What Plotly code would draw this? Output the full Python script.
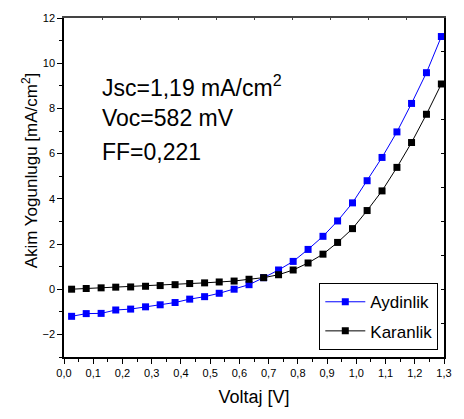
import plotly.graph_objects as go

voltage = [0.026, 0.076, 0.127, 0.177, 0.228, 0.279, 0.329, 0.380, 0.430, 0.481,
           0.531, 0.582, 0.633, 0.683, 0.734, 0.784, 0.835, 0.886, 0.936, 0.987,
           1.037, 1.088, 1.139, 1.189, 1.240, 1.291]
aydinlik = [-1.20, -1.08, -1.07, -0.92, -0.88, -0.78, -0.69, -0.59, -0.44, -0.33,
            -0.18, 0.00, 0.20, 0.51, 0.85, 1.23, 1.76, 2.34, 3.02, 3.82,
            4.80, 5.83, 6.96, 8.22, 9.58, 11.18]
karanlik = [0.00, 0.03, 0.06, 0.09, 0.10, 0.13, 0.16, 0.20, 0.25, 0.28,
            0.32, 0.36, 0.44, 0.51, 0.64, 0.85, 1.16, 1.55, 2.07, 2.68,
            3.48, 4.35, 5.39, 6.49, 7.74, 9.08]
info_lines = ["Jsc=1,19 mA/cm<sup>2</sup>", "Voc=582 mV", "FF=0,221"]

FONT = "Liberation Sans, Arial, sans-serif"

fig = go.Figure()
fig.add_trace(go.Scatter(x=voltage, y=aydinlik, name="Aydinlik", mode="lines+markers",
                         legendgroup="a",
                         line=dict(color="#0000ff", width=1),
                         marker=dict(symbol="square", size=7, color="#0000ff")))
fig.add_trace(go.Scatter(x=voltage, y=karanlik, name="Karanlik", mode="lines+markers",
                         legendgroup="k",
                         line=dict(color="#000000", width=1),
                         marker=dict(symbol="square", size=7, color="#000000")))
# empty trace so the top/right frame axes are drawn
fig.add_trace(go.Scatter(x=[None], y=[None], xaxis="x2", yaxis="y2",
                         showlegend=False, hoverinfo="skip"))

axis_common = dict(showline=True, linecolor="black", linewidth=1.5, mirror=False,
                   ticks="outside", ticklen=5, tickwidth=1, tickcolor="black",
                   showgrid=False, zeroline=False,
                   tickfont=dict(family=FONT, size=11, color="black"))

fig.update_layout(
    xaxis=dict(range=[0, 1.3], dtick=0.1, tick0=0, tickformat=".1f",
               minor=dict(dtick=0.05, ticks="outside", ticklen=3, tickcolor="black"),
               title=dict(text="Voltaj [V]", font=dict(family=FONT, size=18, color="black"),
                          standoff=12),
               **axis_common),
    yaxis=dict(range=[-3, 12], dtick=2, tick0=0,
               minor=dict(dtick=1, ticks="outside", ticklen=3, tickcolor="black"),
               **axis_common),
    xaxis2=dict(overlaying="x", side="top", range=[0, 10], dtick=1,
                showline=True, linecolor="#444444", linewidth=1.5,
                ticks="inside", ticklen=2, tickcolor="#444444",
                showticklabels=False, showgrid=False, zeroline=False),
    yaxis2=dict(overlaying="y", side="right", range=[0, 10], dtick=1,
                showline=True, linecolor="black", linewidth=1.5,
                ticks="inside", ticklen=3, tickcolor="black",
                showticklabels=False, showgrid=False, zeroline=False),
)

fig.add_annotation(text="Akim Yogunlugu [mA/cm<sup>2</sup>]", textangle=-90,
                   xref="paper", yref="paper", x=-0.09, y=0.55,
                   xanchor="center", yanchor="middle", showarrow=False,
                   font=dict(family=FONT, size=17, color="black"))

for txt, yy in zip(info_lines, [0.80, 0.705, 0.605]):
    fig.add_annotation(text=txt, xref="paper", yref="paper", x=0.096, y=yy,
                       xanchor="left", yanchor="middle", showarrow=False,
                       font=dict(family=FONT, size=23, color="black"))

fig.update_layout(
    width=464, height=419,
    margin=dict(l=64, r=12, t=16, b=62),
    plot_bgcolor="white", paper_bgcolor="white",
    separators=",.",
    legend=dict(x=0.985, y=0.02, xanchor="right", yanchor="bottom",
                bordercolor="black", borderwidth=1, bgcolor="white",
                font=dict(family=FONT, size=17, color="black"),
                traceorder="grouped", tracegroupgap=4,
                itemwidth=40),
    showlegend=True,
)

fig.write_html("out.html")
